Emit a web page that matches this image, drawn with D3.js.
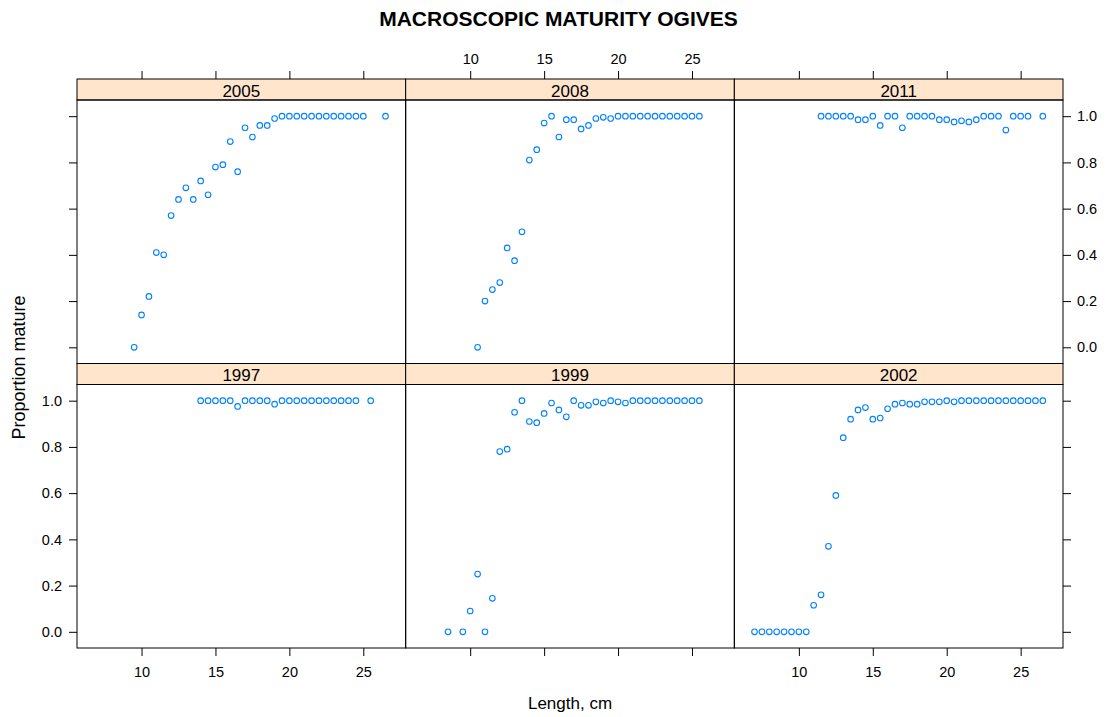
<!DOCTYPE html>
<html>
<head>
<meta charset="utf-8">
<script src="https://cdn.jsdelivr.net/npm/d3@7"></script>
<style>
  body { margin: 0; background: #fff; }
  svg text { font-family: "Liberation Sans", Arial, Helvetica, sans-serif; fill: #000; }
</style>
</head>
<body>
<div id="chart"></div>
<script>
// panel order as drawn: top row then bottom row
const years = ["2005", "2008", "2011", "1997", "1999", "2002"];

const len2005 = [9.5, 10, 10.5, 11, 11.5, 12, 12.5, 13, 13.5, 14, 14.5, 15, 15.5, 16, 16.5, 17, 17.5, 18, 18.5, 19, 19.5, 20, 20.5, 21, 21.5, 22, 22.5, 23, 23.5, 24, 24.5, 25, 26.5];
const prop2005 = [0, 0.14, 0.22, 0.41, 0.40, 0.57, 0.64, 0.69, 0.64, 0.72, 0.66, 0.78, 0.79, 0.89, 0.76, 0.95, 0.91, 0.96, 0.96, 0.99, 1, 1, 1, 1, 1, 1, 1, 1, 1, 1, 1, 1, 1];

const len2008 = [10.5, 11, 11.5, 12, 12.5, 13, 13.5, 14, 14.5, 15, 15.5, 16, 16.5, 17, 17.5, 18, 18.5, 19, 19.5, 20, 20.5, 21, 21.5, 22, 22.5, 23, 23.5, 24, 24.5, 25, 25.5];
const prop2008 = [0, 0.20, 0.25, 0.28, 0.43, 0.375, 0.50, 0.81, 0.855, 0.97, 1, 0.91, 0.985, 0.985, 0.945, 0.96, 0.99, 0.995, 0.99, 1, 1, 1, 1, 1, 1, 1, 1, 1, 1, 1, 1];

const len2011 = [11.5, 12, 12.5, 13, 13.5, 14, 14.5, 15, 15.5, 16, 16.5, 17, 17.5, 18, 18.5, 19, 19.5, 20, 20.5, 21, 21.5, 22, 22.5, 23, 23.5, 24, 24.5, 25, 25.5, 26.5];
const prop2011 = [1, 1, 1, 1, 1, 0.985, 0.985, 1, 0.96, 1, 1, 0.95, 1, 1, 1, 1, 0.985, 0.985, 0.975, 0.98, 0.975, 0.985, 1, 1, 1, 0.94, 1, 1, 1, 1];

const len1997 = [14, 14.5, 15, 15.5, 16, 16.5, 17, 17.5, 18, 18.5, 19, 19.5, 20, 20.5, 21, 21.5, 22, 22.5, 23, 23.5, 24, 24.5, 25.5];
const prop1997 = [1, 1, 1, 1, 1, 0.975, 1, 1, 1, 1, 0.985, 1, 1, 1, 1, 1, 1, 1, 1, 1, 1, 1, 1];

const len1999 = [8.5, 9.5, 10, 10.5, 11, 11.5, 12, 12.5, 13, 13.5, 14, 14.5, 15, 15.5, 16, 16.5, 17, 17.5, 18, 18.5, 19, 19.5, 20, 20.5, 21, 21.5, 22, 22.5, 23, 23.5, 24, 24.5, 25, 25.5];
const prop1999 = [0, 0, 0.09, 0.25, 0, 0.145, 0.78, 0.79, 0.95, 1, 0.91, 0.905, 0.945, 0.99, 0.96, 0.93, 1, 0.98, 0.98, 0.995, 0.99, 1, 0.995, 0.99, 1, 1, 1, 1, 1, 1, 1, 1, 1, 1];

const len2002 = [7, 7.5, 8, 8.5, 9, 9.5, 10, 10.5, 11, 11.5, 12, 12.5, 13, 13.5, 14, 14.5, 15, 15.5, 16, 16.5, 17, 17.5, 18, 18.5, 19, 19.5, 20, 20.5, 21, 21.5, 22, 22.5, 23, 23.5, 24, 24.5, 25, 25.5, 26, 26.5];
const prop2002 = [0, 0, 0, 0, 0, 0, 0, 0, 0.115, 0.16, 0.37, 0.59, 0.84, 0.92, 0.96, 0.97, 0.92, 0.925, 0.965, 0.985, 0.99, 0.985, 0.985, 0.995, 0.995, 0.995, 1, 0.995, 1, 1, 1, 1, 1, 1, 1, 1, 1, 1, 1, 1];

const xTicks = [10, 15, 20, 25];
const yTicks = [0, 0.2, 0.4, 0.6, 0.8, 1.0];

const lengths = { "2005": len2005, "2008": len2008, "2011": len2011, "1997": len1997, "1999": len1999, "2002": len2002 };
const props = { "2005": prop2005, "2008": prop2008, "2011": prop2011, "1997": prop1997, "1999": prop1999, "2002": prop2002 };

// layout of the lattice
const W = 1117, H = 717;
const box = { left: 77, right: 1063, top: 79, bottom: 648 };
const stripH = 21;
const nCol = 3, nRow = 2;
const colW = (box.right - box.left) / nCol;
const rowH = (box.bottom - box.top) / nRow;   // strip + panel
const tickLen = 8;

// lattice pads the data range by 7%
const allLen = d3.merge(Object.values(lengths));
const xExt = d3.extent(allLen);
const xPad = (xExt[1] - xExt[0]) * 0.07;
const x = d3.scaleLinear().domain([xExt[0] - xPad, xExt[1] + xPad]).range([0, colW]);
const y = d3.scaleLinear().domain([-0.07, 1.07]).range([rowH - stripH, 0]);

const svg = d3.select("#chart").append("svg")
  .attr("width", W).attr("height", H);

// title is centred on the page, not on the panels
svg.append("text")
  .attr("x", W / 2).attr("y", 25.5)
  .attr("text-anchor", "middle")
  .style("font-size", "21px").style("font-weight", "bold")
  .text("MACROSCOPIC MATURITY OGIVES");

years.forEach((yr, i) => {
  const col = i % nCol, row = Math.floor(i / nCol);
  const gx = box.left + col * colW;
  const gy = box.top + row * rowH;
  const g = svg.append("g").attr("transform", `translate(${gx},${gy})`);

  // strip
  g.append("rect")
    .attr("width", colW).attr("height", stripH)
    .attr("fill", "#ffe5cc").attr("stroke", "#000").attr("stroke-width", 1);
  g.append("text")
    .attr("x", colW / 2).attr("y", stripH - 3.5)
    .attr("text-anchor", "middle")
    .style("font-size", "17px")
    .text(yr);

  const p = g.append("g").attr("transform", `translate(0,${stripH})`);
  const pts = lengths[yr].map((l, j) => ({ l: l, v: props[yr][j] }));
  p.selectAll("circle").data(pts).enter().append("circle")
    .attr("cx", d => x(d.l))
    .attr("cy", d => y(d.v))
    .attr("r", 2.8)
    .attr("fill", "none")
    .attr("stroke", "#0080ff")
    .attr("stroke-width", 1.1);

  p.append("rect")
    .attr("width", colW).attr("height", rowH - stripH)
    .attr("fill", "none").attr("stroke", "#000").attr("stroke-width", 1);

  // x axes on outer rows only, labels alternate
  if (row === nRow - 1) {
    const ax = d3.axisBottom(x).tickValues(xTicks).tickSize(tickLen).tickPadding(11)
      .tickFormat(col % 2 === 0 ? d3.format("d") : "");
    p.append("g").attr("class", "axis").attr("transform", `translate(0,${rowH - stripH})`).call(ax);
  }
  if (row === 0) {
    const ax = d3.axisTop(x).tickValues(xTicks).tickSize(tickLen).tickPadding(7)
      .tickFormat(col % 2 === 1 ? d3.format("d") : "");
    g.append("g").attr("class", "axis").call(ax);
  }
  // y axes on outer columns only, labels alternate
  if (col === 0) {
    const ay = d3.axisLeft(y).tickValues(yTicks).tickSize(tickLen).tickPadding(7)
      .tickFormat(row === nRow - 1 ? d3.format(".1f") : "");
    p.append("g").attr("class", "axis").call(ay);
  }
  if (col === nCol - 1) {
    const ay = d3.axisRight(y).tickValues(yTicks).tickSize(tickLen).tickPadding(6)
      .tickFormat(row === 0 ? d3.format(".1f") : "");
    p.append("g").attr("class", "axis").attr("transform", `translate(${colW},0)`).call(ay);
  }
});

svg.selectAll(".axis .domain").remove();
svg.selectAll(".axis line").attr("stroke", "#000");
svg.selectAll(".axis text").style("font-size", "14.5px").style("font-family", "'Liberation Sans', Arial, sans-serif");

svg.append("text")
  .attr("x", (box.left + box.right) / 2).attr("y", 709)
  .attr("text-anchor", "middle")
  .style("font-size", "17px")
  .text("Length, cm");

svg.append("text")
  .attr("transform", `translate(25,${(box.top + box.bottom) / 2 + 4}) rotate(-90)`)
  .attr("text-anchor", "middle")
  .style("font-size", "18px")
  .text("Proportion mature");
</script>
</body>
</html>
